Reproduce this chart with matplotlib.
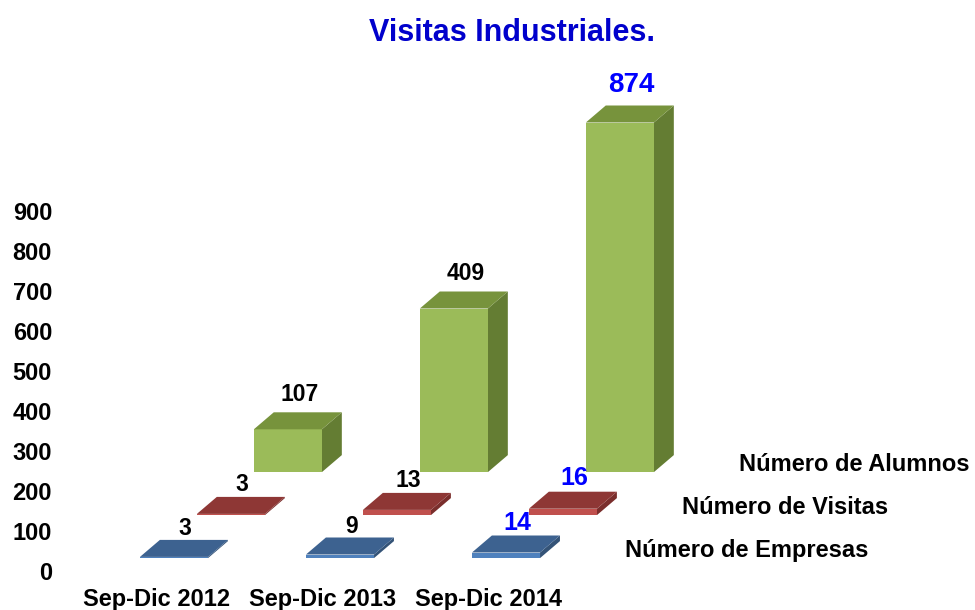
import matplotlib
matplotlib.use("Agg")
import matplotlib.pyplot as plt
from matplotlib.patches import Polygon

# Data
categories = ['Sep-Dic 2012', 'Sep-Dic 2013', 'Sep-Dic 2014']
series_names = ['Número de Empresas', 'Número de Visitas', 'Número de Alumnos']
empresas = [3, 9, 14]
visitas = [3, 13, 16]
alumnos = [107, 409, 874]
yticks = [0, 100, 200, 300, 400, 500, 600, 700, 800, 900]

series_values = [empresas, visitas, alumnos]

# Colours per series: front, top, side
front_colors = ['#4F81BD', '#C0504D', '#9BBB59']
top_colors = ['#3D6290', '#8E3735', '#77933C']
side_colors = ['#345377', '#7A2E2C', '#647D33']

# Value label style per category (last year is highlighted in blue)
label_colors = ['black', 'black', '#0000FF']
label_sizes = [[16.5, 16.5, 18], [16.5, 16.5, 18], [16.5, 16.5, 20]]
label_lift = [8, 9, 13]   # points above the top face, per series

# Fake 3D layout: each series sits further back (right and up)
DEPTH_DX = 0.343     # category units per series step
DEPTH_DY = 107.5     # value units per series step
FLOOR = 0.3          # floor front edge, in series steps in front of series 0
BAR_W = 0.41
BAR_DX = 0.12        # own depth of a bar
BAR_DY = 42.5

plt.rcParams['font.family'] = ['Liberation Sans', 'DejaVu Sans']
plt.rcParams['font.weight'] = 'bold'

fig = plt.figure(figsize=(9.75, 6.1), dpi=100)
# axes: left at 58px, bottom (value 0) at 571px from top, 0.4 px per unit
ax = fig.add_axes([58 / 975, 39 / 610, 917 / 975, 511 / 610])
ax.set_xlim((58 - 174) / 166, (975 - 174) / 166)
ax.set_ylim(0, 511 / 0.4)

for s in range(len(series_values) - 1, -1, -1):
    vals = series_values[s]
    base = (s + FLOOR) * DEPTH_DY
    for i, v in enumerate(vals):
        x0 = i - BAR_W / 2 + s * DEPTH_DX
        x1 = x0 + BAR_W
        y0 = base
        y1 = base + v
        front = [(x0, y0), (x1, y0), (x1, y1), (x0, y1)]
        top = [(x0, y1), (x1, y1), (x1 + BAR_DX, y1 + BAR_DY), (x0 + BAR_DX, y1 + BAR_DY)]
        side = [(x1, y0), (x1 + BAR_DX, y0 + BAR_DY), (x1 + BAR_DX, y1 + BAR_DY), (x1, y1)]
        z = 10 - s
        ax.add_patch(Polygon(side, closed=True, facecolor=side_colors[s], edgecolor='none', zorder=z))
        ax.add_patch(Polygon(front, closed=True, facecolor=front_colors[s], edgecolor='none', zorder=z))
        ax.add_patch(Polygon(top, closed=True, facecolor=top_colors[s], edgecolor='none', zorder=z))

        # value label above the top face
        cx = (x0 + x1) / 2 + BAR_DX / 2
        size = label_sizes[s][i]
        ax.annotate(str(v), xy=(cx, y1 + BAR_DY), xytext=(1, label_lift[s] + (size - 16.5) * 0.6),
                    textcoords='offset points', ha='center', va='center',
                    fontsize=size, fontweight='bold', color=label_colors[i], zorder=20)

    # series name to the right of the last category
    ax.text(len(categories) - 1 + 0.717 + s * DEPTH_DX, base + 20, series_names[s],
            ha='left', va='center', fontsize=17, fontweight='bold', color='black')

# category labels along the floor front
ax.set_xticks([i - FLOOR * DEPTH_DX for i in range(len(categories))])
ax.set_xticklabels(categories, fontsize=17, fontweight='bold')
ax.set_yticks(yticks)
ax.set_yticklabels([str(t) for t in yticks], fontsize=17, fontweight='bold')
ax.tick_params(axis='x', length=0, pad=12)
ax.tick_params(axis='y', length=0, pad=4.3)
for sp in ax.spines.values():
    sp.set_visible(False)

fig.text(512 / 975, 1 - 33 / 610, 'Visitas Industriales.', ha='center', va='center',
         fontsize=22, fontweight='bold', color='#0000CC')

fig.savefig('out.png', dpi=100)
